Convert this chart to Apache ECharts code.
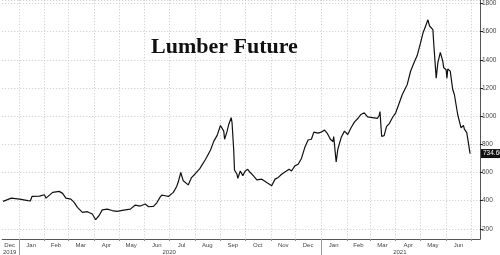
<!DOCTYPE html>
<html>
<head>
<meta charset="utf-8">
<script src="https://cdn.jsdelivr.net/npm/echarts@6/dist/echarts.min.js"></script>
<style>
html,body{margin:0;padding:0;background:#fff;}
#chart{width:500px;height:255px;}
</style>
</head>
<body>
<div id="chart"></div>
<script>
const dates = [
'2019-12-13','2019-12-23','2020-01-02','2020-01-12','2020-01-15','2020-01-17','2020-01-26','2020-02-01','2020-02-03','2020-02-11',
'2020-02-19','2020-02-23','2020-02-27','2020-03-04','2020-03-08','2020-03-12','2020-03-18','2020-03-24','2020-03-30','2020-04-03',
'2020-04-07','2020-04-11','2020-04-17','2020-04-23','2020-04-29','2020-05-07','2020-05-15','2020-05-21','2020-05-27','2020-06-02',
'2020-06-06','2020-06-12','2020-06-16','2020-06-20','2020-06-22','2020-06-26','2020-06-30','2020-07-06','2020-07-10','2020-07-12',
'2020-07-15','2020-07-18','2020-07-20','2020-07-24','2020-07-28','2020-08-01','2020-08-07','2020-08-14','2020-08-20','2020-08-24',
'2020-08-26','2020-08-28','2020-09-01','2020-09-03','2020-09-05','2020-09-06','2020-09-09','2020-09-11','2020-09-14','2020-09-15',
'2020-09-17','2020-09-18','2020-09-21','2020-09-22','2020-09-25','2020-09-28','2020-10-01','2020-10-04','2020-10-07','2020-10-11',
'2020-10-15','2020-10-21','2020-10-27','2020-11-02','2020-11-06','2020-11-10','2020-11-14','2020-11-18','2020-11-23','2020-11-26',
'2020-11-30','2020-12-04','2020-12-08','2020-12-12','2020-12-16','2020-12-20','2020-12-23','2020-12-28','2021-01-01','2021-01-05',
'2021-01-08','2021-01-12','2021-01-15','2021-01-16','2021-01-19','2021-01-21','2021-01-25','2021-01-29','2021-02-02','2021-02-06',
'2021-02-10','2021-02-15','2021-02-18','2021-02-22','2021-02-26','2021-03-04','2021-03-10','2021-03-12','2021-03-13','2021-03-15',
'2021-03-18','2021-03-21','2021-03-24','2021-03-28','2021-04-01','2021-04-04','2021-04-09','2021-04-15','2021-04-19','2021-04-23',
'2021-04-27','2021-05-01','2021-05-04','2021-05-07','2021-05-09','2021-05-10','2021-05-12','2021-05-14','2021-05-16','2021-05-17',
'2021-05-20','2021-05-22','2021-05-25','2021-05-28','2021-05-29','2021-06-01','2021-06-02','2021-06-03','2021-06-06','2021-06-09',
'2021-06-11','2021-06-15','2021-06-17','2021-06-19','2021-06-22','2021-06-23','2021-06-26','2021-06-30'
];
const prices = [
395,418,411,400,398,430,432,442,418,459,
466,452,418,411,388,353,317,322,305,265,
293,335,340,330,324,333,340,369,362,376,
357,360,385,425,440,435,430,459,501,534,
600,541,535,512,564,588,628,694,760,823,
815,864,934,930,894,836,892,941,989,955,
765,618,588,558,611,578,611,623,600,576,
548,553,529,506,553,565,588,604,623,611,
647,659,700,777,831,836,887,880,887,901,
880,836,820,855,675,765,848,894,870,918,
958,989,1012,1024,995,990,985,1005,1033,857,
862,927,945,989,1024,1072,1154,1225,1319,1378,
1430,1519,1590,1637,1645,1684,1640,1645,1615,1519,
1270,1378,1453,1389,1345,1330,1270,1335,1320,1189,
1154,1012,1000,918,934,910,883,734.6
];
const lastLabel = '734.60';
const titleText = 'Lumber Future';
const monthTickDates = ['2020-01-01','2020-02-01','2020-03-01','2020-04-01','2020-05-01','2020-06-01','2020-07-01','2020-08-01','2020-09-01','2020-10-01','2020-11-01','2020-12-01','2021-01-01','2021-02-01','2021-03-01','2021-04-01','2021-05-01','2021-06-01','2021-07-01'];
const monthLabelDates = ['2019-12-21','2020-01-16','2020-02-15','2020-03-16','2020-04-16','2020-05-16','2020-06-16','2020-07-16','2020-08-16','2020-09-16','2020-10-16','2020-11-16','2020-12-16','2021-01-16','2021-02-15','2021-03-16','2021-04-16','2021-05-16','2021-06-16'];
const monthLabels = ['Dec','Jan','Feb','Mar','Apr','May','Jun','Jul','Aug','Sep','Oct','Nov','Dec','Jan','Feb','Mar','Apr','May','Jun'];
const yearTickDates = ['2020-01-01','2021-01-01'];
const yearLabelDates = ['2019-12-21','2020-07-01','2021-04-06'];
const yearLabels = ['2019','2020','2021'];
const xStart = '2019-12-12', xEnd = '2021-07-12';

const T = s => Date.parse(s + 'T00:00:00Z');
const monthMap = {}; monthLabelDates.forEach((d,i)=>{monthMap[T(d)] = monthLabels[i];});
const yearMap = {}; yearLabelDates.forEach((d,i)=>{yearMap[T(d)] = yearLabels[i];});

const chart = echarts.init(document.getElementById('chart'), null, {renderer:'canvas'});
const gridLine = {show:true, lineStyle:{color:'#c8c8c8', type:[1,2], width:1}};
chart.setOption({
  animation:false,
  backgroundColor:'#fff',
  title:{text:titleText, left:146, top:31, textStyle:{fontFamily:'Liberation Serif', fontWeight:'bold', fontSize:22, color:'#111'}},
  grid:{left:0, right:20, top:0, bottom:15, containLabel:false},
  xAxis:[{
    type:'value', min:T(xStart), max:T(xEnd), position:'bottom',
    axisLine:{show:true, lineStyle:{color:'#555', width:1}},
    axisTick:{show:true, length:2, lineStyle:{color:'#888'}, customValues:monthTickDates.map(T)},
    splitLine:gridLine,
    axisLabel:{customValues:monthLabelDates.map(T), formatter:v=>monthMap[v]||'', fontSize:6, color:'#444', margin:3, fontFamily:'Liberation Sans', hideOverlap:false}
  },{
    type:'value', min:T(xStart), max:T(xEnd), position:'bottom', offset:0,
    axisLine:{show:false},
    axisTick:{show:true, length:16, lineStyle:{color:'#999'}, customValues:yearTickDates.map(T)},
    splitLine:{show:false},
    axisLabel:{customValues:yearLabelDates.map(T), formatter:v=>yearMap[v]||'', fontSize:6, color:'#444', margin:10, fontFamily:'Liberation Sans', hideOverlap:false}
  }],
  yAxis:{
    type:'value', position:'right', min:128, max:1823, minInterval:200, maxInterval:200,
    axisLine:{show:true, lineStyle:{color:'#555', width:1}},
    axisTick:{show:true, inside:false, length:3, lineStyle:{color:'#222'}},
    splitLine:gridLine,
    axisLabel:{fontSize:6.5, color:'#444', margin:2, fontFamily:'Liberation Sans', showMinLabel:false, showMaxLabel:false, formatter:v=>String(Math.round(v))}
  },
  series:[{
    type:'line', xAxisIndex:0, data:dates.map((d,i)=>[T(d), prices[i]]),
    showSymbol:false, symbol:'none',
    lineStyle:{color:'#111', width:1.2},
    markLine:{
      silent:true, symbol:'none',
      lineStyle:{color:'rgba(0,0,0,0)', width:0},
      data:[{yAxis:prices[prices.length-1]}],
      label:{show:true, position:'end', distance:1, formatter:lastLabel, color:'#fff', backgroundColor:'#111', padding:[1,2,1,2], fontSize:6.5, fontFamily:'Liberation Sans'}
    }
  }]
});
</script>
</body>
</html>
